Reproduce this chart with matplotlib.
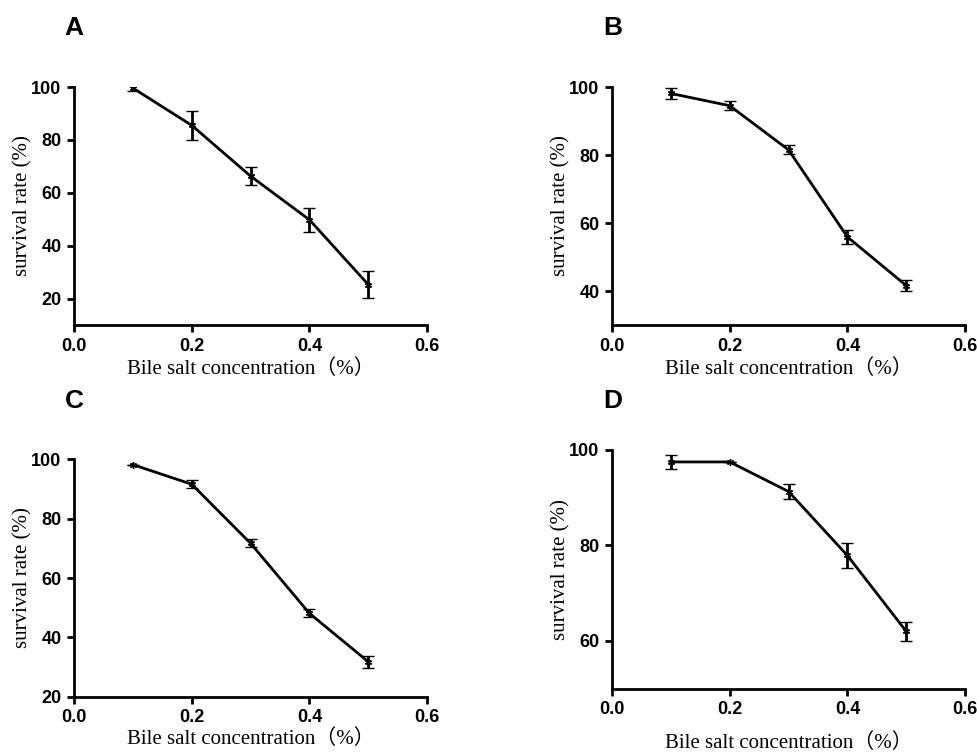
import matplotlib
matplotlib.use("Agg")
import matplotlib.pyplot as plt

conc = [0.1, 0.2, 0.3, 0.4, 0.5]

surv_a = [99.6, 85.5, 66.3, 49.8, 25.3]
err_a = [1.0, 5.6, 3.5, 4.5, 5.0]
surv_b = [98.1, 94.5, 81.5, 55.9, 41.6]
err_b = [1.6, 1.3, 1.3, 2.0, 1.5]
surv_c = [98.2, 91.6, 71.7, 48.1, 31.8]
err_c = [0.0, 1.3, 1.3, 1.3, 2.0]
surv_d = [97.5, 97.5, 91.3, 77.9, 62.0]
err_d = [1.5, 0.0, 1.6, 2.7, 2.0]

panels = ["A", "B", "C", "D"]
ylims = [(10, 100), (30, 100), (20, 100), (50, 100)]
yticks = [[20, 40, 60, 80, 100], [40, 60, 80, 100], [20, 40, 60, 80, 100], [60, 80, 100]]
xticks = [0.0, 0.2, 0.4, 0.6]
xtick_labels = ["0.0", "0.2", "0.4", "0.6"]

# axes boxes in figure fractions [left, bottom, width, height]
boxes = [
    [0.0757, 0.5678, 0.361, 0.3165],
    [0.6258, 0.5678, 0.361, 0.3165],
    [0.0757, 0.0735, 0.361, 0.3157],
    [0.6258, 0.0842, 0.361, 0.3174],
]
label_xy = [(0.0757, 0.963), (0.6268, 0.963), (0.0757, 0.467), (0.6268, 0.467)]
xlabel_pad = [3, 3, 2, 11]

serif = ["Liberation Serif", "Noto Sans CJK SC", "DejaVu Serif"]

fig = plt.figure(figsize=(9.78, 7.52), dpi=100)
data = [(surv_a, err_a), (surv_b, err_b), (surv_c, err_c), (surv_d, err_d)]

for i, (vals, errs) in enumerate(data):
    ax = fig.add_axes(boxes[i])
    ax.errorbar(conc, vals, yerr=errs, color="black", lw=2, elinewidth=2,
                capsize=4, capthick=2, marker=(6, 2, 0), ms=5, mew=1)
    ax.set_xlim(0, 0.6)
    ax.set_ylim(*ylims[i])
    ax.set_xticks(xticks)
    ax.set_xticklabels(xtick_labels)
    ax.set_yticks(yticks[i])
    for s in ["top", "right"]:
        ax.spines[s].set_visible(False)
    for s in ["left", "bottom"]:
        ax.spines[s].set_linewidth(2)
    ax.spines["left"].set_bounds(ylims[i][0], 100)
    ax.tick_params(direction="out", length=5, width=2, pad=4)
    for t in ax.get_xticklabels() + ax.get_yticklabels():
        t.set_family("Liberation Sans")
        t.set_fontweight("bold")
        t.set_fontsize(13)
    ax.set_ylabel("survival rate (%)", family=serif, fontsize=15, labelpad=-1)
    ax.set_xlabel("Bile salt concentration（%）", family=serif, fontsize=15,
                  labelpad=xlabel_pad[i])
    fig.text(label_xy[i][0], label_xy[i][1], panels[i], family="Liberation Sans",
             fontweight="bold", fontsize=19, ha="center", va="center")

fig.savefig("out.png", dpi=100, facecolor="white")
